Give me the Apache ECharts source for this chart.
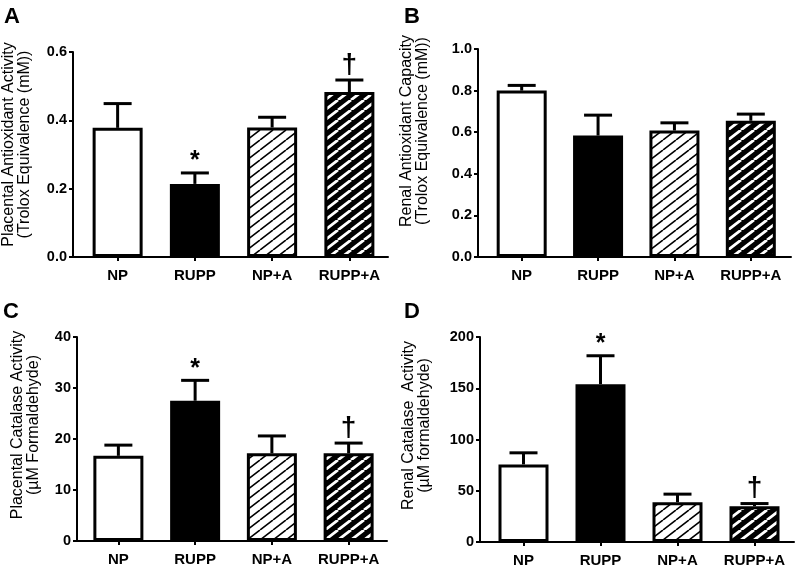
<!DOCTYPE html>
<html><head><meta charset="utf-8">
<script src="https://cdn.jsdelivr.net/npm/echarts@6/dist/echarts.min.js"></script>
<style>html,body{margin:0;padding:0;background:#fff}#c{width:798px;height:569px}</style>
</head><body><div id="c"></div>
<script>
// ---- data ----
const categories = ['NP', 'RUPP', 'NP+A', 'RUPP+A'];

const meanA = [0.378, 0.214, 0.379, 0.483];
const semA  = [0.071, 0.032, 0.030, 0.035];
const marksA = ['', '*', '', '†'];
const ticksA = [0, 0.2, 0.4, 0.6];

const meanB = [0.800, 0.584, 0.608, 0.655];
const semB  = [0.025, 0.098, 0.037, 0.032];
const marksB = ['', '', '', ''];
const ticksB = [0, 0.2, 0.4, 0.6, 0.8, 1.0];

const meanC = [16.7, 27.5, 17.2, 17.2];
const semC  = [2.1, 4.0, 3.4, 2.0];
const marksC = ['', '*', '', '†'];
const ticksC = [0, 10, 20, 30, 40];

const meanD = [75.7, 154, 38.8, 34.9];
const semD  = [11.3, 27.7, 7.9, 2.6];
const marksD = ['', '*', '', '†'];
const ticksD = [0, 50, 100, 150, 200];

const titleA = 'Placental Antioxidant Activity\n(Trolox Equivalence (mM))';
const titleB = 'Renal Antioxidant Capacity\n(Trolox Equivalence (mM))';
const titleC = 'Placental Catalase Activity\n(µM Formaldehyde)';
const titleD = 'Renal Catalase  Activity\n(µM formaldehyde)';

// ---- styling / layout ----
const FONT = '"Liberation Sans", Arial, Helvetica, sans-serif';

function hatch(bg, fg, lw) {
  const c = document.createElement('canvas');
  c.width = 13; c.height = 10;
  const g = c.getContext('2d');
  g.fillStyle = bg; g.fillRect(0, 0, 13, 10);
  g.strokeStyle = fg; g.lineWidth = lw;
  g.beginPath();
  for (const dx of [-13, 0, 13]) { g.moveTo(dx, 10); g.lineTo(dx + 13, 0); }
  g.stroke();
  return c;
}
const fills = [
  '#ffffff',
  '#000000',
  { image: hatch('#ffffff', '#000000', 1.6), repeat: 'repeat' },
  { image: hatch('#000000', '#ffffff', 2.8), repeat: 'repeat' }
];

const panels = [
  { letter: 'A', lx: 4, ly: 6, mean: meanA, sem: semA, marks: marksA, ticks: ticksA, name: titleA, dec: 1,
    axisX: 72, bandL: 78, bandR: 388, lineR: 388, top: 52, bottom: 257, nameGap: 40, shift: 10 },
  { letter: 'B', lx: 404, ly: 6, mean: meanB, sem: semB, marks: marksB, ticks: ticksB, name: titleB, dec: 1,
    axisX: 478, bandL: 483.5, bandR: 789, lineR: 791, top: 49, bottom: 257, nameGap: 47, shift: 22 },
  { letter: 'C', lx: 3, ly: 301, mean: meanC, sem: semC, marks: marksC, ticks: ticksC, name: titleC, dec: 0,
    axisX: 77, bandL: 80, bandR: 387, lineR: 387, top: 337, bottom: 541, nameGap: 35, shift: 14 },
  { letter: 'D', lx: 404, ly: 301, mean: meanD, sem: semD, marks: marksD, ticks: ticksD, name: titleD, dec: 0,
    axisX: 480, bandL: 485, bandR: 793, lineR: 794, top: 337, bottom: 542, nameGap: 47, shift: 14 }
];

const option = { animation: false, backgroundColor: '#fff', title: [], grid: [], xAxis: [], yAxis: [], series: [] };

panels.forEach((p, k) => {
  const gi = option.grid.length;
  option.title.push({ text: p.letter, left: p.lx, top: p.ly, padding: 0,
    textStyle: { fontSize: 22, fontWeight: 'bold', color: '#000', fontFamily: FONT } });
  // main grid
  option.grid.push({ left: p.bandL, top: p.top, width: p.bandR - p.bandL, height: p.bottom - p.top });
  // aux grid for the x-axis baseline
  option.grid.push({ left: p.axisX, top: p.top, width: p.lineR - p.axisX, height: p.bottom - p.top });

  const tmin = p.ticks[0], tmax = p.ticks[p.ticks.length - 1], step = p.ticks[1] - p.ticks[0];
  option.xAxis.push({
    type: 'category', gridIndex: gi, data: categories,
    axisLine: { show: false },
    axisTick: { show: true, alignWithLabel: true, interval: 0, length: 4, lineStyle: { color: '#000', width: 2 } },
    axisLabel: { color: '#000', fontSize: 15, fontWeight: 'bold', fontFamily: FONT, margin: 11,
      interval: 0, hideOverlap: false },
    splitLine: { show: false }
  });
  option.xAxis.push({
    type: 'value', gridIndex: gi + 1, min: 0, max: 1,
    axisLine: { show: true, onZero: false, lineStyle: { color: '#000', width: 2 } },
    axisTick: { show: false }, axisLabel: { show: false }, splitLine: { show: false }
  });
  option.yAxis.push({
    type: 'value', gridIndex: gi, min: tmin, max: tmax, interval: step,
    offset: p.bandL - p.axisX,
    axisLine: { show: true, lineStyle: { color: '#000', width: 2 } },
    axisTick: { show: true, length: 4, lineStyle: { color: '#000', width: 2 } },
    axisLabel: { color: '#000', fontSize: 14.5, fontWeight: 'bold', fontFamily: FONT, margin: 6,
      formatter: v => Number(v).toFixed(p.dec) },
    splitLine: { show: false },
    name: p.name, nameLocation: 'middle', nameGap: p.nameGap,
    nameTextStyle: { color: '#000', fontSize: 16, lineHeight: 16, fontFamily: FONT,
      padding: [0, 0, 0, p.shift * 2] }
  });
  option.yAxis.push({ type: 'value', gridIndex: gi + 1, show: false, min: 0, max: 1 });

  const xi = gi, yi = gi;
  option.series.push({
    type: 'bar', xAxisIndex: xi, yAxisIndex: yi, barWidth: 50, z: 2,
    data: p.mean.map((v, i) => ({ value: v,
      itemStyle: { color: fills[i], borderColor: '#000', borderWidth: 3 } }))
  });
  option.series.push({
    type: 'custom', xAxisIndex: xi, yAxisIndex: yi, z: 3,
    data: p.mean.map((v, i) => [i, v, v + p.sem[i]]),
    renderItem: (params, api) => {
      const a = api.coord([api.value(0), api.value(1)]);
      const b = api.coord([api.value(0), api.value(2)]);
      const hw = 14;
      return { type: 'group', children: [
        { type: 'line', shape: { x1: a[0], y1: a[1], x2: b[0], y2: b[1] }, style: { stroke: '#000', lineWidth: 3 } },
        { type: 'line', shape: { x1: b[0] - hw, y1: b[1], x2: b[0] + hw, y2: b[1] }, style: { stroke: '#000', lineWidth: 3 } }
      ] };
    }
  });
  option.series.push({
    type: 'custom', xAxisIndex: xi, yAxisIndex: yi, z: 4,
    data: p.mean.map((v, i) => [i, v + p.sem[i], p.marks[i]]),
    renderItem: (params, api) => {
      const m = p.marks[params.dataIndex];
      if (!m) return null;
      const b = api.coord([api.value(0), api.value(1)]);
      const star = m === '*';
      return { type: 'text', x: b[0], y: star ? b[1] + 1 : b[1] - 1,
        style: { text: m, fill: '#000', font: (star ? 'bold 25px ' : 'bold 28px ') + FONT,
          textAlign: 'center', textVerticalAlign: 'bottom' } };
    }
  });
});

const chart = echarts.init(document.getElementById('c'), null, { renderer: 'canvas' });
chart.setOption(option);
</script>
</body></html>
